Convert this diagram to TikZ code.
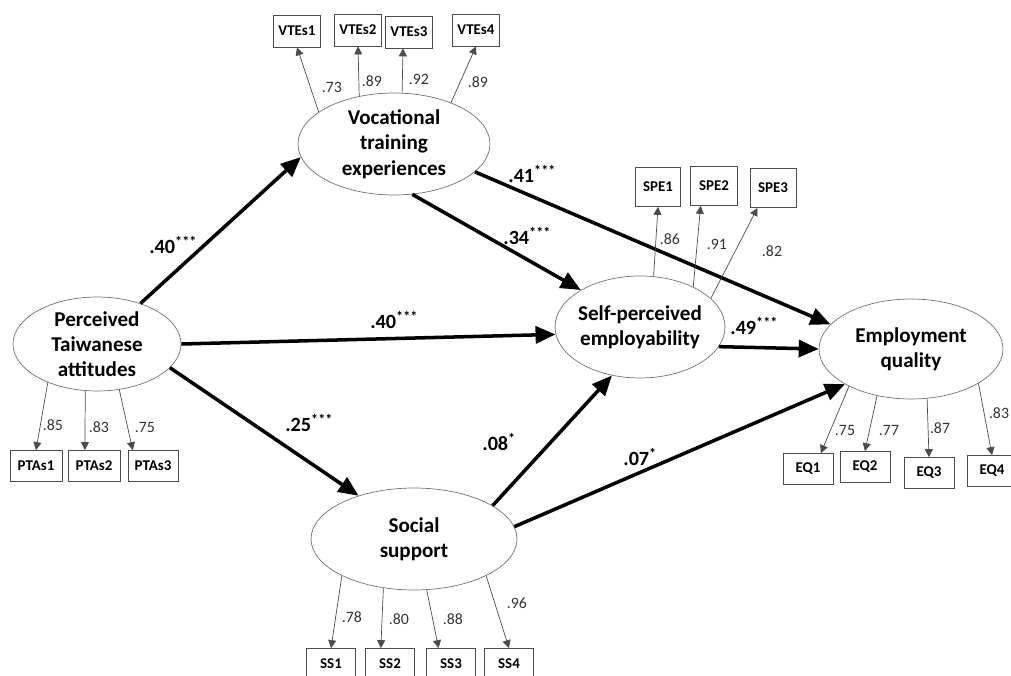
\documentclass[tikz,border=0pt]{standalone}
\usepackage{fontspec}
\setmainfont{Carlito}
\usetikzlibrary{arrows.meta, shapes.geometric}
\tikzset{latent/.style={ellipse,draw=black!55,thin,inner sep=-4pt,align=center,font=\bfseries\fontsize{12}{14.4}\selectfont},
         ind/.style={draw=black!70,thin,minimum width=0.94cm,minimum height=0.64cm,inner sep=1pt,font=\bfseries\fontsize{8.5}{10}\selectfont},
         effect/.style={line width=2pt,-{Triangle[length=0.4cm,width=0.34cm]}},
         ld/.style={draw=black!70,thin,-{Triangle[length=1.6mm,width=1.6mm]}},
         coef/.style={anchor=west,inner sep=0pt,font=\bfseries\fontsize{11.5}{13}\selectfont},
         lv/.style={inner sep=0pt,text=black!80,font=\fontsize{9}{10}\selectfont},
        }
\begin{document}
\begin{tikzpicture}[x=0.02cm,y=-0.02cm]
        \useasboundingbox(0,0)rectangle(1011,676);
        \node[latent,minimum width=3.84cm,minimum height=2.04cm](VTE)at(394,144){Vocational\\training\\experiences};
        \node[latent,minimum width=3.36cm,minimum height=1.88cm](PTA)at(97,344){Perceived\\Taiwanese\\attitudes};
        \node[latent,minimum width=3.4cm,minimum height=2.04cm](SPE)at(640,327){Self-perceived\\employability};
        \node[latent,minimum width=3.68cm,minimum height=2.0cm](EQ)at(911,349){Employment\\quality};
        \node[latent,minimum width=4.12cm,minimum height=2.04cm](SS)at(414,539){Social\\support};

        \node[ind](VTEs1)at(297,31){VTEs1};
        \node[ind](VTEs2)at(358,30){VTEs2};
        \node[ind](VTEs3)at(409,32){VTEs3};
        \node[ind](VTEs4)at(476,30){VTEs4};
        \node[ind,minimum width=1.04cm,minimum height=0.62cm](PTAs1)at(36,466){PTAs1};
        \node[ind,minimum width=1.04cm,minimum height=0.62cm](PTAs2)at(94,466){PTAs2};
        \node[ind,minimum width=1.0cm,minimum height=0.62cm](PTAs3)at(153,466){PTAs3};
        \node[ind,minimum width=0.9cm,minimum height=0.78cm](SPE1)at(658,187){SPE1};
        \node[ind,minimum width=0.94cm,minimum height=0.78cm](SPE2)at(714,186){SPE2};
        \node[ind,minimum width=0.92cm,minimum height=0.78cm](SPE3)at(773,188){SPE3};
        \node[ind,minimum width=1.0cm,minimum height=0.62cm](EQ1)at(808,469){EQ1};
        \node[ind,minimum width=1.0cm,minimum height=0.62cm](EQ2)at(865,467){EQ2};
        \node[ind,minimum width=1.0cm,minimum height=0.62cm](EQ3)at(929,473){EQ3};
        \node[ind,minimum width=1.0cm,minimum height=0.62cm](EQ4)at(992,471){EQ4};
        \node[ind,minimum width=0.98cm,minimum height=0.62cm](SS1)at(331,664){SS1};
        \node[ind,minimum width=0.98cm,minimum height=0.62cm](SS2)at(390,664){SS2};
        \node[ind,minimum width=0.98cm,minimum height=0.62cm](SS3)at(451,664){SS3};
        \node[ind,minimum width=0.98cm,minimum height=0.62cm](SS4)at(509,664){SS4};

        \draw[effect](PTA.43)--(VTE.188);
        \draw[effect](PTA.0)--(SPE.185);
        \draw[effect](PTA.342)--(SS.142);
        \draw[effect](VTE.290)--(SPE.148);
        \draw[effect](VTE.341)--(EQ.163);
        \draw[effect](SPE.346)--(EQ.180);
        \draw[effect](SS.23)--(SPE.240);
        \draw[effect](SS.7)--(EQ.208);

        \node[coef](c1)at(149,245){.40\textsuperscript{***}};
        \node[coef](c2)at(370,320){.40\textsuperscript{***}};
        \node[coef](c3)at(508,174){.41\textsuperscript{***}};
        \node[coef](c4)at(503,236){.34\textsuperscript{***}};
        \node[coef](c5)at(730,326){.49\textsuperscript{***}};
        \node[coef](c6)at(285,423){.25\textsuperscript{***}};
        \node[coef](c7)at(482,442){.08\textsuperscript{*}};
        \node[coef](c8)at(623,457){.07\textsuperscript{*}};

        \draw[ld](VTE.157)--(VTEs1.south);
        \draw[ld](VTE.126)--(VTEs2.south);
        \draw[ld](VTE.81)--(VTEs3.250);
        \draw[ld](VTE.36)--(VTEs4.south);
        \draw[ld](PTA.218)--(PTAs1.north);
        \draw[ld](PTA.256)--(PTAs2.120);
        \draw[ld](PTA.296)--(PTAs3.142);
        \draw[ld](SPE.75)--(SPE1.south);
        \draw[ld](SPE.37)--(SPE2.236);
        \draw[ld](SPE.22)--(SPE3.232);
        \draw[ld](EQ.211)--(EQ1.51);
        \draw[ld](EQ.234)--(EQ2.north);
        \draw[ld](EQ.288)--(EQ3.north);
        \draw[ld](EQ.333)--(EQ4.north);
        \draw[ld](SS.207)--(SS1.north);
        \draw[ld](SS.238)--(SS2.120);
        \draw[ld](SS.284)--(SS3.128);
        \draw[ld](SS.333)--(SS4.north);

        \node[lv](l1)at(332,87){.73};
        \node[lv](l2)at(372,81){.89};
        \node[lv](l3)at(419,79){.92};
        \node[lv](l4)at(478,82){.89};
        \node[lv](l5)at(53,425){.85};
        \node[lv](l6)at(99,427){.83};
        \node[lv](l7)at(145,427){.75};
        \node[lv](l8)at(670,239){.86};
        \node[lv](l9)at(717,244){.91};
        \node[lv](l10)at(772,251){.82};
        \node[lv](l11)at(845,430){.75};
        \node[lv](l12)at(889,430){.77};
        \node[lv](l13)at(940,428){.87};
        \node[lv](l14)at(999,413){.83};
        \node[lv](l15)at(352,617){.78};
        \node[lv](l16)at(399,619){.80};
        \node[lv](l17)at(453,619){.88};
        \node[lv](l18)at(517,603){.96};
\end{tikzpicture}
\end{document}
